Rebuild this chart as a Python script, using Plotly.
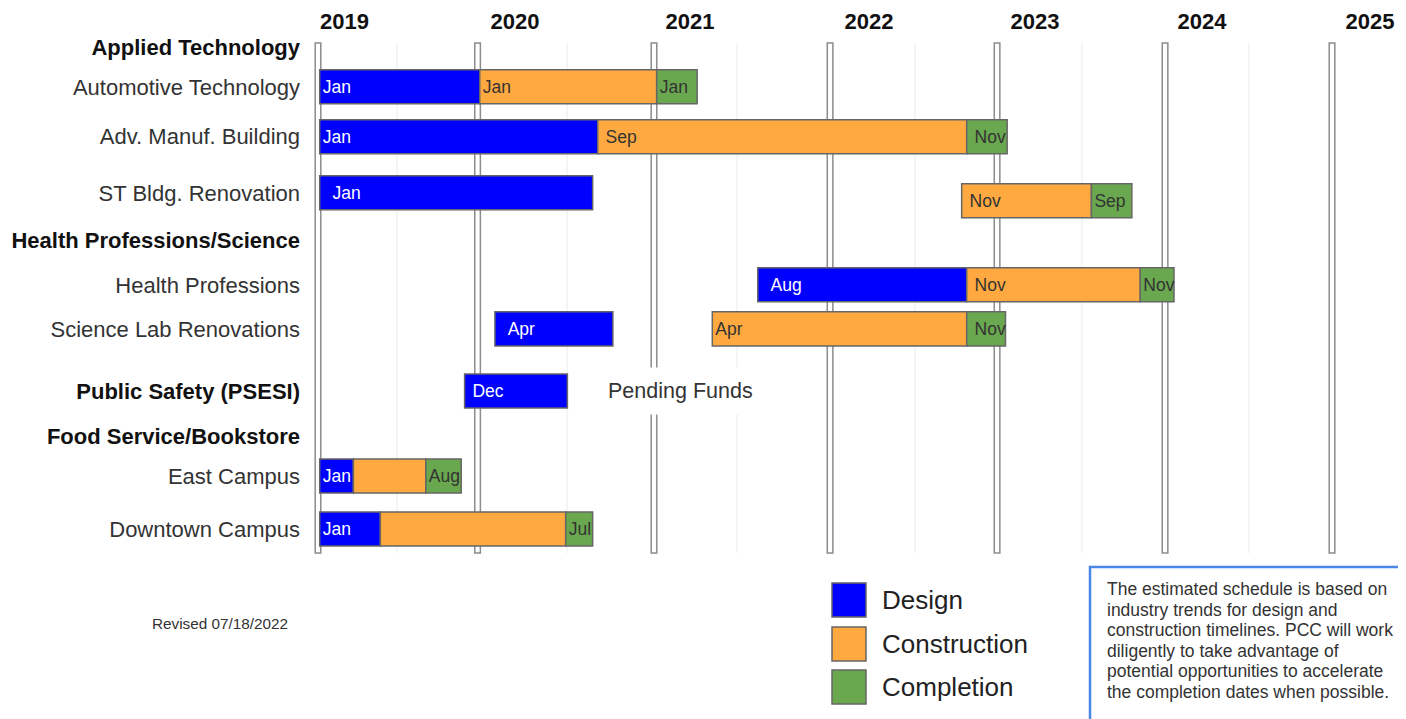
import plotly.graph_objects as go

# ---------------- data ----------------
rows = ["Applied Technology", "Automotive Technology", "Adv. Manuf. Building",
        "ST Bldg. Renovation", "Health Professions/Science", "Health Professions",
        "Science Lab Renovations", "Public Safety (PSESI)", "Food Service/Bookstore",
        "East Campus", "Downtown Campus"]
header_rows = ["Applied Technology", "Health Professions/Science",
               "Public Safety (PSESI)", "Food Service/Bookstore"]

design_rows = ["Automotive Technology", "Adv. Manuf. Building", "ST Bldg. Renovation",
               "Health Professions", "Science Lab Renovations", "Public Safety (PSESI)",
               "East Campus", "Downtown Campus"]
design_start = [2019.01, 2019.01, 2019.01, 2021.61, 2020.05, 2019.87, 2019.01, 2019.01]
design_end = [2019.96, 2020.66, 2020.63, 2022.85, 2020.75, 2020.48, 2019.21, 2019.37]
design_labels = ["Jan", "Jan", "\u00a0\u00a0Jan", "\u00a0\u00a0Aug", "\u00a0\u00a0Apr",
                 "\u00a0Dec", "Jan", "Jan"]

construction_rows = ["Automotive Technology", "Adv. Manuf. Building", "ST Bldg. Renovation",
                     "Health Professions", "Science Lab Renovations", "East Campus",
                     "Downtown Campus"]
construction_start = [2019.96, 2020.66, 2022.82, 2022.85, 2021.34, 2019.21, 2019.37]
construction_end = [2021.01, 2022.85, 2023.59, 2023.88, 2022.85, 2019.64, 2020.47]
construction_labels = ["Jan", "\u00a0Sep", "\u00a0Nov", "\u00a0Nov", "Apr", "", ""]

completion_rows = construction_rows
completion_start = construction_end
completion_end = [2021.25, 2023.09, 2023.83, 2024.08, 2023.08, 2019.85, 2020.63]
completion_labels = ["Jan", "\u00a0Nov", "Sep", "Nov", "\u00a0Nov", "Aug", "Jul"]

years = ["2019", "2020", "2021", "2022", "2023", "2024", "2025"]
year_line_x = [2019.0, 2019.947, 2020.994, 2022.039, 2023.03, 2024.027, 2025.018]
year_label_x = [2019.157, 2020.169, 2021.208, 2022.270, 2023.255, 2024.246, 2025.243]
minor_grid_x = [2019.469, 2020.478, 2021.487, 2022.543, 2023.534, 2024.525]

phase_names = ["Design", "Construction", "Completion"]
phase_colors = ["#0000ff", "#ffa940", "#6aa84f"]

pending_text = "Pending Funds"
pending_x = 2021.151
revised_text = "Revised 07/18/2022"
note_lines = ["The estimated schedule is based on",
              "industry trends for design and",
              "construction timelines. PCC will work",
              "diligently to take advantage of",
              "potential opportunities to accelerate",
              "the completion dates when possible."]

# ---------------- layout constants (page pixels; page has 8px body margin) ----------------
PAGE_OFF = 8
W, H = 1406 - PAGE_OFF, 719 - PAGE_OFF
PLOT_L, PLOT_R, PLOT_T, PLOT_B = 304, 1400, 42, 553  # page coordinates
ML, MT = PLOT_L - PAGE_OFF, PLOT_T - PAGE_OFF
MR, MB = W - (PLOT_R - PAGE_OFF), H - (PLOT_B - PAGE_OFF)
PW, PH = PLOT_R - PLOT_L, PLOT_B - PLOT_T
PX_PER_YEAR = 168.5
X0_PX = 318  # page pixel of the 2019 line
FONT = "Liberation Sans, Arial, sans-serif"
BAR_W = 0.707
# vertical slot of each row (in row units; the source layout is not evenly spaced)
ROW_SLOTS = [0.0, 0.811, 1.85, 3.015, 3.992, 4.927, 5.842, 7.131, 8.067, 8.898, 10.0]
SLOT = dict(zip(rows, ROW_SLOTS))
ROW_SHIFT = {"ST Bldg. Renovation": 8 / 48.1}


def pxx(px):
    return (px - PLOT_L) / PW


def pxy(py):
    return (PLOT_B - py) / PH


fig = go.Figure()

phase_data = [
    (design_rows, design_start, design_end, design_labels, "white", False),
    (construction_rows, construction_start, construction_end, construction_labels, "#333333", True),
    (completion_rows, completion_start, completion_end, completion_labels, "#333333", True),
]
for (r, s, e, lab, tcol, shift), name, col in zip(phase_data, phase_names, phase_colors):
    offs = [-BAR_W / 2 + (ROW_SHIFT.get(rr, 0) if shift else 0) for rr in r]
    fig.add_trace(go.Bar(
        orientation="h", y=[SLOT[rr] for rr in r], base=s, x=[b - a for a, b in zip(s, e)],
        name=name, text=lab, textposition="inside", insidetextanchor="start",
        constraintext="none", textangle=0,
        textfont=dict(family=FONT, size=17.5, color=tcol),
        marker=dict(color=col, line=dict(color="#666666", width=1.5)),
        width=BAR_W, offset=offs, hoverinfo="skip", showlegend=False,
    ))

shapes = []
for gx in minor_grid_x:
    shapes.append(dict(type="line", xref="x", yref="paper", x0=gx, x1=gx, y0=0, y1=0.998,
                       line=dict(color="#ebebeb", width=1), layer="below"))
hw = 2.8 / PX_PER_YEAR
for lx in year_line_x:
    shapes.append(dict(type="rect", xref="x", yref="paper", x0=lx - hw, x1=lx + hw,
                       y0=0, y1=0.998, fillcolor="white",
                       line=dict(color="#8c8c8c", width=1.5), layer="below"))

# legend (manual, large squares)
legend_y = [600, 644, 687]
for name, col, cy in zip(phase_names, phase_colors, legend_y):
    shapes.append(dict(type="rect", xref="paper", yref="paper",
                       x0=pxx(832), x1=pxx(866), y0=pxy(cy - 17), y1=pxy(cy + 17),
                       fillcolor=col, line=dict(color="#666666", width=1.5)))

# note box
shapes.append(dict(type="rect", xref="paper", yref="paper",
                   x0=pxx(1090), x1=pxx(1425), y0=pxy(567), y1=pxy(745),
                   fillcolor="rgba(0,0,0,0)", line=dict(color="#4a86e8", width=2.5)))

annotations = []
for name, cy in zip(phase_names, legend_y):
    annotations.append(dict(xref="paper", yref="paper", x=pxx(880), y=pxy(cy),
                            xanchor="left", yanchor="middle", text=name, showarrow=False,
                            font=dict(family=FONT, size=26, color="#222222")))
for i, line in enumerate(note_lines):
    annotations.append(dict(xref="paper", yref="paper", x=pxx(1105), y=pxy(589 + 20.6 * i),
                            xanchor="left", yanchor="middle", text=line, showarrow=False,
                            font=dict(family=FONT, size=17.5, color="#333333")))
annotations.append(dict(xref="paper", yref="paper", x=pxx(220), y=pxy(623),
                        xanchor="center", yanchor="middle", text=revised_text, showarrow=False,
                        font=dict(family=FONT, size=15.3, color="#333333")))
annotations.append(dict(xref="x", yref="y", x=pending_x, y=SLOT["Public Safety (PSESI)"],
                        xanchor="center", yanchor="middle", text=pending_text, showarrow=False,
                        bgcolor="white", borderpad=11,
                        font=dict(family=FONT, size=21.5, color="#333333")))

ticktext = [f"<b><span style='color:#111111'>{r}</span></b>" if r in header_rows else r
            for r in rows]

fig.update_layout(
    width=W, height=H, margin=dict(l=ML, r=MR, t=MT, b=MB),
    paper_bgcolor="white", plot_bgcolor="white", barmode="overlay",
    shapes=shapes, annotations=annotations, showlegend=False,
    xaxis=dict(side="top", range=[2019 + (PLOT_L - X0_PX) / PX_PER_YEAR,
                                  2019 + (PLOT_R - X0_PX) / PX_PER_YEAR],
               tickvals=year_label_x, ticktext=[f"<b>{y}</b>" for y in years],
               tickfont=dict(family=FONT, size=22, color="#111111"),
               showgrid=False, zeroline=False, showline=False, automargin=False,
               ticks="outside", ticklen=3, tickcolor="rgba(0,0,0,0)"),
    yaxis=dict(range=[10.5, -0.12], tickvals=ROW_SLOTS, ticktext=ticktext,
               tickfont=dict(family=FONT, size=22, color="#333333"),
               showgrid=False, zeroline=False, showline=False, ticks="",
               automargin=False, ticklabelstandoff=3),
)

fig.write_html("out.html")
